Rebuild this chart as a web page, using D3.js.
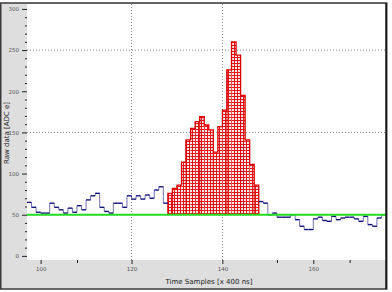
<!DOCTYPE html>
<html><head><meta charset="utf-8">
<script src="https://cdn.jsdelivr.net/npm/d3@7"></script>
<style>html,body{margin:0;padding:0;background:#fff;}svg{display:block;}</style>
</head><body>
<svg id="c" width="392" height="292"></svg>
<script>
// ---- data ----
const firstSample = 97;
const rawValues = [65,59,53,52,52,64,59,56,52,58,53,61,56,68,73,76,59,54,52,64,64,59,73,69,73,69,74,70,80,84,64,
  76,82,86,114,141,155,163,169,159,153,126,157,177,226,260,244,195,141,111,86,
  66,64,50,52,47,47,47,50,44,36,32,32,45,47,43,42,48,44,46,47,47,45,42,48,38,36,46,50];
const signalStart = 128, signalEnd = 147; // samples shown as signal (red)
const pedestal = 50;
const xTicks = [100,120,140,160];
const xMinor = [108,152,168];
const xGrid = [120,140];
const yTicks = [0,50,100,150,200,250,300];
const yGrid = [50,150,250];
const yMinor = d3.range(0,310,10);

const svg = d3.select("#c");
const L=27,R=386,T=4,B=260;
const x = d3.scaleLinear().domain([firstSample, firstSample+rawValues.length]).range([L,R]);
const y = d3.scaleLinear().domain([-5,306]).range([B,T]);
const samples = rawValues.map((v,i)=>({s:firstSample+i,v}));

// frame
svg.append("rect").attr("x",0.75).attr("y",3).attr("width",386).attr("height",286)
  .attr("fill","#dedede").attr("stroke","#3a3a3a").attr("stroke-width",1.5);
svg.append("rect").attr("x",L).attr("y",T).attr("width",R-L).attr("height",B-T).attr("fill","#fff");

// pattern
const defs = svg.append("defs");
const pat = defs.append("pattern").attr("id","chk").attr("patternUnits","userSpaceOnUse").attr("width",3).attr("height",3);
pat.append("rect").attr("width",3).attr("height",3).attr("fill","#e01515");
pat.append("rect").attr("x",1).attr("y",1).attr("width",2).attr("height",2).attr("fill","#fbe8e8");

// grid
const g = svg.append("g");
g.selectAll(".gy").data(yGrid).join("line").attr("x1",L).attr("x2",R).attr("y1",d=>y(d)).attr("y2",d=>y(d))
  .attr("stroke","#8a8a8a").attr("stroke-width",1).attr("stroke-dasharray","1,2");
g.selectAll(".gx").data(xGrid).join("line").attr("y1",T).attr("y2",B).attr("x1",d=>x(d)).attr("x2",d=>x(d))
  .attr("stroke","#8a8a8a").attr("stroke-width",1).attr("stroke-dasharray","1,2");

// signal bars (fill) + silhouette outline
const sig = samples.filter(d=>d.s>=signalStart && d.s<=signalEnd);
svg.append("g").selectAll("rect").data(sig).join("rect")
  .attr("x",d=>x(d.s)).attr("width",d=>x(d.s+1)-x(d.s))
  .attr("y",d=>y(d.v)).attr("height",d=>y(pedestal)-y(d.v))
  .attr("fill","url(#chk)");
const step = d3.line().x(d=>x(d[0])).y(d=>y(d[1])).curve(d3.curveStepAfter);
const sigPts = [[signalStart,pedestal]].concat(sig.map(d=>[d.s,d.v]));
sigPts.push([signalEnd+1,sig[sig.length-1].v]);
sigPts.push([signalEnd+1,pedestal]);
svg.append("path").attr("d",d3.line().x(d=>x(d[0])).y(d=>y(d[1])).curve(d3.curveStepAfter)(sigPts))
  .attr("fill","none").attr("stroke","#dd0000").attr("stroke-width",1.3);
// a few interior bar edges
svg.append("g").selectAll("line").data(sig.filter((d,i)=>i%3===1)).join("line")
  .attr("x1",d=>x(d.s)).attr("x2",d=>x(d.s)).attr("y1",d=>y(d.v)).attr("y2",y(pedestal))
  .attr("stroke","#dd0000").attr("stroke-width",1);

// blue histogram (non-signal): tops dark, edges faint
const others = samples.filter(d=>d.s<signalStart || d.s>signalEnd);
svg.append("g").selectAll("line").data(others).join("line")
  .attr("x1",d=>x(d.s)).attr("x2",d=>x(d.s+1)).attr("y1",d=>y(d.v)).attr("y2",d=>y(d.v))
  .attr("stroke","#12127a").attr("stroke-width",1.4);
const edges = samples.slice(1).map((d,i)=>({s:d.s,a:samples[i].v,b:d.v}))
  .filter(e=>!(e.s>signalStart && e.s<=signalEnd+1) && e.s!==signalStart && e.s!==signalEnd+1);
svg.append("g").selectAll("line").data(edges).join("line")
  .attr("x1",d=>x(d.s)).attr("x2",d=>x(d.s)).attr("y1",d=>y(d.a)).attr("y2",d=>y(d.b))
  .attr("stroke","#12127a").attr("stroke-width",0.8).attr("stroke-opacity",0.75);

// pedestal line
svg.append("line").attr("x1",L).attr("x2",R).attr("y1",y(pedestal)).attr("y2",y(pedestal))
  .attr("stroke","#22dd22").attr("stroke-width",2);

// right border
svg.append("line").attr("x1",R).attr("x2",R).attr("y1",3).attr("y2",289).attr("stroke","#111").attr("stroke-width",1.5);

// axes
const xa = svg.append("g").attr("transform",`translate(0,${B})`)
  .call(d3.axisBottom(x).tickValues(xTicks).tickSize(4).tickFormat(d3.format("d")));
const xm = svg.append("g").attr("transform",`translate(0,${B})`)
  .call(d3.axisBottom(x).tickValues(xMinor).tickSize(3).tickFormat(""));
const ya = svg.append("g").attr("transform",`translate(${L},0)`)
  .call(d3.axisLeft(y).tickValues(yTicks).tickSize(5).tickPadding(3).tickFormat(d3.format("d")));
const ym = svg.append("g").attr("transform",`translate(${L},0)`)
  .call(d3.axisLeft(y).tickValues(yMinor.filter(v=>!yTicks.includes(v))).tickSize(2).tickFormat(""));
[xa,xm,ya,ym].forEach(a=>{
  a.select(".domain").remove();
  a.selectAll("line").attr("stroke","#222").attr("stroke-width",1);
  a.selectAll("text").attr("font-family","DejaVu Sans, sans-serif").attr("font-size",5.5).attr("fill","#555");
});

// titles
svg.append("text").attr("x",209).attr("y",284).attr("text-anchor","middle")
  .attr("font-family","DejaVu Sans, sans-serif").attr("font-size",7).attr("fill","#222").text("Time Samples [x 400 ns]");
svg.append("text").attr("transform","translate(9,133) rotate(-90)").attr("text-anchor","middle")
  .attr("font-family","DejaVu Sans, sans-serif").attr("font-size",7).attr("fill","#222").text("Raw data [ADC e]");
</script>
</body></html>
